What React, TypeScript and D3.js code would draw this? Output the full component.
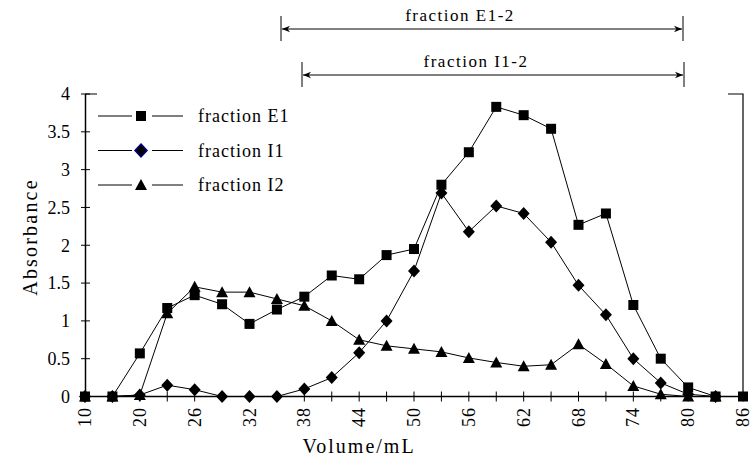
import React from "react";
import * as d3 from "d3";

const volumes = [10, 15, 20, 23, 26, 29, 32, 35, 38, 41, 44, 47, 50, 53, 56, 59, 62, 65, 68, 71, 74, 77, 80, 83, 86];
const shownTicks = [10, 20, 26, 32, 38, 44, 50, 56, 62, 68, 74, 80, 86];
const yTicks = [0, 0.5, 1, 1.5, 2, 2.5, 3, 3.5, 4];

const fractionE1 = [0, 0, 0.57, 1.17, 1.34, 1.22, 0.96, 1.15, 1.32, 1.6, 1.55, 1.87, 1.95, 2.8, 3.23, 3.83, 3.72, 3.54, 2.27, 2.42, 1.21, 0.5, 0.12, 0, 0];
const fractionI1 = [0, 0, 0.02, 0.15, 0.09, 0, 0, 0, 0.1, 0.25, 0.58, 1.0, 1.66, 2.69, 2.18, 2.52, 2.42, 2.04, 1.47, 1.08, 0.5, 0.18, 0.03, 0];
const fractionI2 = [0, 0, 0.02, 1.1, 1.45, 1.38, 1.38, 1.29, 1.2, 1.0, 0.75, 0.67, 0.63, 0.59, 0.51, 0.45, 0.4, 0.42, 0.69, 0.43, 0.14, 0.03, 0, 0];

const legendItems = [
  { label: "fraction E1", marker: "square" },
  { label: "fraction I1", marker: "diamond" },
  { label: "fraction I2", marker: "triangle" },
];

const ranges = [
  { label: "fraction E1-2", from: 281, to: 683, y: 29 },
  { label: "fraction I1-2", from: 302, to: 684, y: 75 },
];

const FONT = "'Liberation Serif', 'Times New Roman', serif";

function Marker({ type, x, y, navy }: { type: string; x: number; y: number; navy?: boolean }) {
  if (type === "square") {
    return <rect x={x - 5} y={y - 5} width={10} height={10} fill="#000" />;
  }
  if (type === "diamond") {
    const p = d3.path();
    p.moveTo(x, y - 6.5);
    p.lineTo(x + 6, y);
    p.lineTo(x, y + 6.5);
    p.lineTo(x - 6, y);
    p.closePath();
    return <path d={p.toString()} fill="#000" stroke={navy ? "#000080" : "none"} strokeWidth={navy ? 1.5 : 0} />;
  }
  const p = d3.path();
  p.moveTo(x, y - 6);
  p.lineTo(x + 6, y + 5);
  p.lineTo(x - 6, y + 5);
  p.closePath();
  return <path d={p.toString()} fill="#000" />;
}

export default function App() {
  const W = 751;
  const H = 464;
  const x = d3.scalePoint<number>().domain(volumes).range([85, 743]);
  const y = d3.scaleLinear().domain([0, 4]).range([396.5, 94]);

  const line = d3
    .line<number>()
    .x((_, i) => x(volumes[i]) as number)
    .y((d) => y(d));

  const series = [
    { data: fractionE1, marker: "square" },
    { data: fractionI1, marker: "diamond" },
    { data: fractionI2, marker: "triangle" },
  ];

  return (
    <svg width={W} height={H} style={{ position: "absolute", left: 0, top: 0, background: "#fff" }} fontFamily={FONT}>
      <rect width={W} height={H} fill="#fff" />
      {/* y axis */}
      <line x1={85.5} x2={85.5} y1={y(4)} y2={y(0)} stroke="#000" strokeWidth={1.5} />
      {yTicks.map((t) => (
        <g key={t}>
          <line x1={81} x2={90} y1={y(t)} y2={y(t)} stroke="#000" strokeWidth={1} />
          <text x={70} y={y(t)} dy="0.35em" textAnchor="end" fontSize={18}>
            {t}
          </text>
        </g>
      ))}
      <line x1={85} x2={97} y1={y(4)} y2={y(4)} stroke="#000" strokeWidth={1} />
      {/* right border */}
      <polyline points={`728,${y(4)} 743,${y(4)} 743,${y(0)}`} fill="none" stroke="#000" strokeWidth={1.2} />
      {/* x axis */}
      <line x1={85} x2={743} y1={y(0)} y2={y(0)} stroke="#000" strokeWidth={1.5} />
      {volumes.map((v) => (
        <line key={v} x1={x(v)} x2={x(v)} y1={y(0) - 5} y2={y(0) + 5} stroke="#000" strokeWidth={1} />
      ))}
      {shownTicks.map((v) => (
        <text
          key={v}
          transform={`translate(${(x(v) as number) + 6},407) rotate(-90)`}
          textAnchor="end"
          fontSize={18}
          letterSpacing={1}
        >
          {v}
        </text>
      ))}
      {/* axis titles */}
      <text transform="translate(37,237) rotate(-90)" textAnchor="middle" fontSize={20} letterSpacing={2.2}>
        Absorbance
      </text>
      <text x={359} y={453} textAnchor="middle" fontSize={20} letterSpacing={2}>
        Volume/mL
      </text>
      {/* series */}
      {series.map((s, si) => (
        <g key={si}>
          <path d={line(s.data) || ""} fill="none" stroke="#000" strokeWidth={1} />
          {s.data.map((d, i) => (
            <Marker key={i} type={s.marker} x={x(volumes[i]) as number} y={y(d)} />
          ))}
        </g>
      ))}
      {/* legend */}
      {legendItems.map((it, i) => {
        const ly = 116 + i * 34.5;
        return (
          <g key={it.label}>
            <line x1={98} x2={132} y1={ly} y2={ly} stroke="#000" strokeWidth={1} />
            <line x1={152} x2={183} y1={ly} y2={ly} stroke="#000" strokeWidth={1} />
            <Marker type={it.marker} x={141} y={ly} navy={it.marker === "diamond"} />
            <text x={198} y={ly} dy="0.35em" fontSize={18} letterSpacing={1}>
              {it.label}
            </text>
          </g>
        );
      })}
      {/* fraction ranges */}
      <defs>
        <marker id="arr" viewBox="0 0 10 10" refX={10} refY={5} markerWidth={8} markerHeight={8} orient="auto-start-reverse" markerUnits="userSpaceOnUse">
          <path d="M0,1 L10,5 L0,9 L3,5 Z" fill="#000" />
        </marker>
      </defs>
      {ranges.map((r) => (
        <g key={r.label}>
          <line x1={r.from} x2={r.from} y1={r.y - 13} y2={r.y + 12} stroke="#000" strokeWidth={1} />
          <line x1={r.to} x2={r.to} y1={r.y - 13} y2={r.y + 12} stroke="#000" strokeWidth={1} />
          <line x1={r.from + 1} x2={r.to - 1} y1={r.y} y2={r.y} stroke="#000" strokeWidth={1} markerStart="url(#arr)" markerEnd="url(#arr)" />
          <text x={(r.from + r.to) / 2 + (r.label.includes("E") ? -22 : -17)} y={r.y - 8} textAnchor="middle" fontSize={17} letterSpacing={1.5}>
            {r.label}
          </text>
        </g>
      ))}
    </svg>
  );
}
